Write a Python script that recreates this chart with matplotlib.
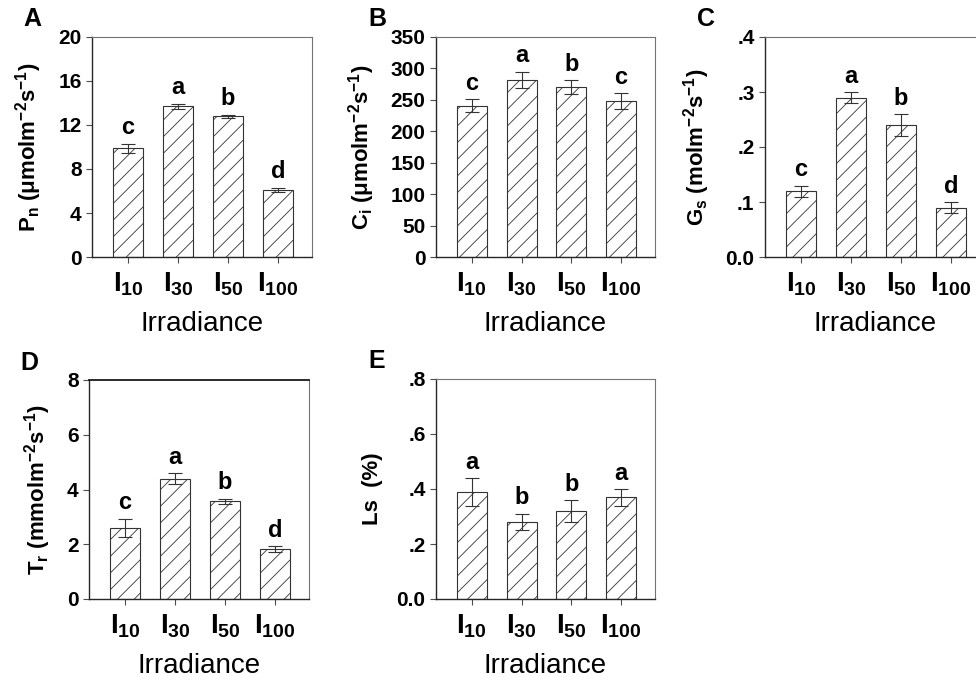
import matplotlib
matplotlib.use("Agg")
import matplotlib.pyplot as plt
import numpy as np

plt.rcParams['font.family'] = ['Liberation Sans', 'DejaVu Sans']
plt.rcParams['mathtext.fontset'] = 'custom'
plt.rcParams['mathtext.rm'] = 'Liberation Sans:bold'
plt.rcParams['mathtext.it'] = 'Liberation Sans:bold'
plt.rcParams['mathtext.bf'] = 'Liberation Sans:bold'
plt.rcParams['hatch.color'] = '0.3'
plt.rcParams['hatch.linewidth'] = 0.6

# data
groups = [r'$\mathrm{I_{10}}$', r'$\mathrm{I_{30}}$', r'$\mathrm{I_{50}}$', r'$\mathrm{I_{100}}$']

pn = [9.9, 13.7, 12.8, 6.1]
pn_err = [0.4, 0.25, 0.15, 0.2]
pn_letters = ['c', 'a', 'b', 'd']

ci = [241, 282, 270, 248]
ci_err = [10, 13, 11, 13]
ci_letters = ['c', 'a', 'b', 'c']

gs = [0.12, 0.29, 0.24, 0.09]
gs_err = [0.01, 0.01, 0.02, 0.01]
gs_letters = ['c', 'a', 'b', 'd']

tr = [2.6, 4.4, 3.57, 1.83]
tr_err = [0.33, 0.2, 0.1, 0.1]
tr_letters = ['c', 'a', 'b', 'd']

ls = [0.39, 0.28, 0.32, 0.37]
ls_err = [0.05, 0.03, 0.04, 0.03]
ls_letters = ['a', 'b', 'b', 'a']

fig = plt.figure(figsize=(9.76, 6.81), dpi=100)
W, H = 976, 681


def make_ax(left, top, right, bottom):
    return fig.add_axes([left / W, 1 - bottom / H, (right - left) / W, (bottom - top) / H])


def panel(ax, vals, errs, letters, ymax, yticks, yticklabels, ylabel, tag, top_dark=False):
    x = np.arange(len(vals))
    ax.bar(x, vals, width=0.6, color='white', edgecolor='0.2', linewidth=0.8,
           hatch='//', zorder=2)
    ax.errorbar(x, vals, yerr=errs, fmt='none', ecolor='0.2', elinewidth=0.8,
                capsize=5, capthick=0.8, zorder=3)
    off = ymax * 0.02
    for xi, v, e, l in zip(x, vals, errs, letters):
        ax.text(xi, v + e + off, l, ha='center', va='bottom', fontsize=17,
                fontweight='bold')
    ax.set_xlim(-0.72, 3.68)
    ax.set_ylim(0, ymax)
    ax.set_yticks(yticks)
    ax.set_yticklabels(yticklabels, fontsize=15, fontweight='bold')
    ax.set_xticks(x)
    ax.set_xticklabels(groups, fontsize=20)
    ax.tick_params(axis='both', direction='out', length=4, width=0.8, color='0.3')
    ax.tick_params(axis='x', pad=6)
    ax.set_xlabel('Irradiance', fontsize=20, labelpad=9)
    ax.set_ylabel(ylabel, fontsize=16, fontweight='bold', labelpad=10)
    for s in ['left', 'bottom']:
        ax.spines[s].set_linewidth(1.0)
        ax.spines[s].set_color('0.15')
    for s in ['top', 'right']:
        ax.spines[s].set_linewidth(0.8)
        ax.spines[s].set_color('0.45')
    if top_dark:
        ax.spines['top'].set_linewidth(1.3)
        ax.spines['top'].set_color('0.1')
    ax.text(-0.31, 1.025, tag, transform=ax.transAxes, fontsize=18, fontweight='bold',
            ha='left', va='bottom')


axA = make_ax(92, 37, 312, 257)
panel(axA, pn, pn_err, pn_letters, 20, [0, 4, 8, 12, 16, 20],
      ['0', '4', '8', '12', '16', '20'],
      r'P$_\mathrm{n}$ (μmolm$^\mathrm{-2}$s$^\mathrm{-1}$)', 'A')

axB = make_ax(436, 37, 655, 257)
panel(axB, ci, ci_err, ci_letters, 350, list(range(0, 351, 50)),
      [str(v) for v in range(0, 351, 50)],
      r'C$_\mathrm{i}$ (μmolm$^\mathrm{-2}$s$^\mathrm{-1}$)', 'B')

axC = make_ax(765, 37, 985, 257)
panel(axC, gs, gs_err, gs_letters, 0.4, [0, 0.1, 0.2, 0.3, 0.4],
      ['0.0', '.1', '.2', '.3', '.4'],
      r'G$_\mathrm{s}$ (molm$^\mathrm{-2}$s$^\mathrm{-1}$)', 'C')

axD = make_ax(89, 380, 309, 599)
panel(axD, tr, tr_err, tr_letters, 8, [0, 2, 4, 6, 8],
      ['0', '2', '4', '6', '8'],
      r'T$_\mathrm{r}$ (mmolm$^\mathrm{-2}$s$^\mathrm{-1}$)', 'D', top_dark=True)

axE = make_ax(436, 379, 655, 599)
panel(axE, ls, ls_err, ls_letters, 0.8, [0, 0.2, 0.4, 0.6, 0.8],
      ['0.0', '.2', '.4', '.6', '.8'],
      'Ls  (%)', 'E')

fig.savefig('out.png', dpi=100)
